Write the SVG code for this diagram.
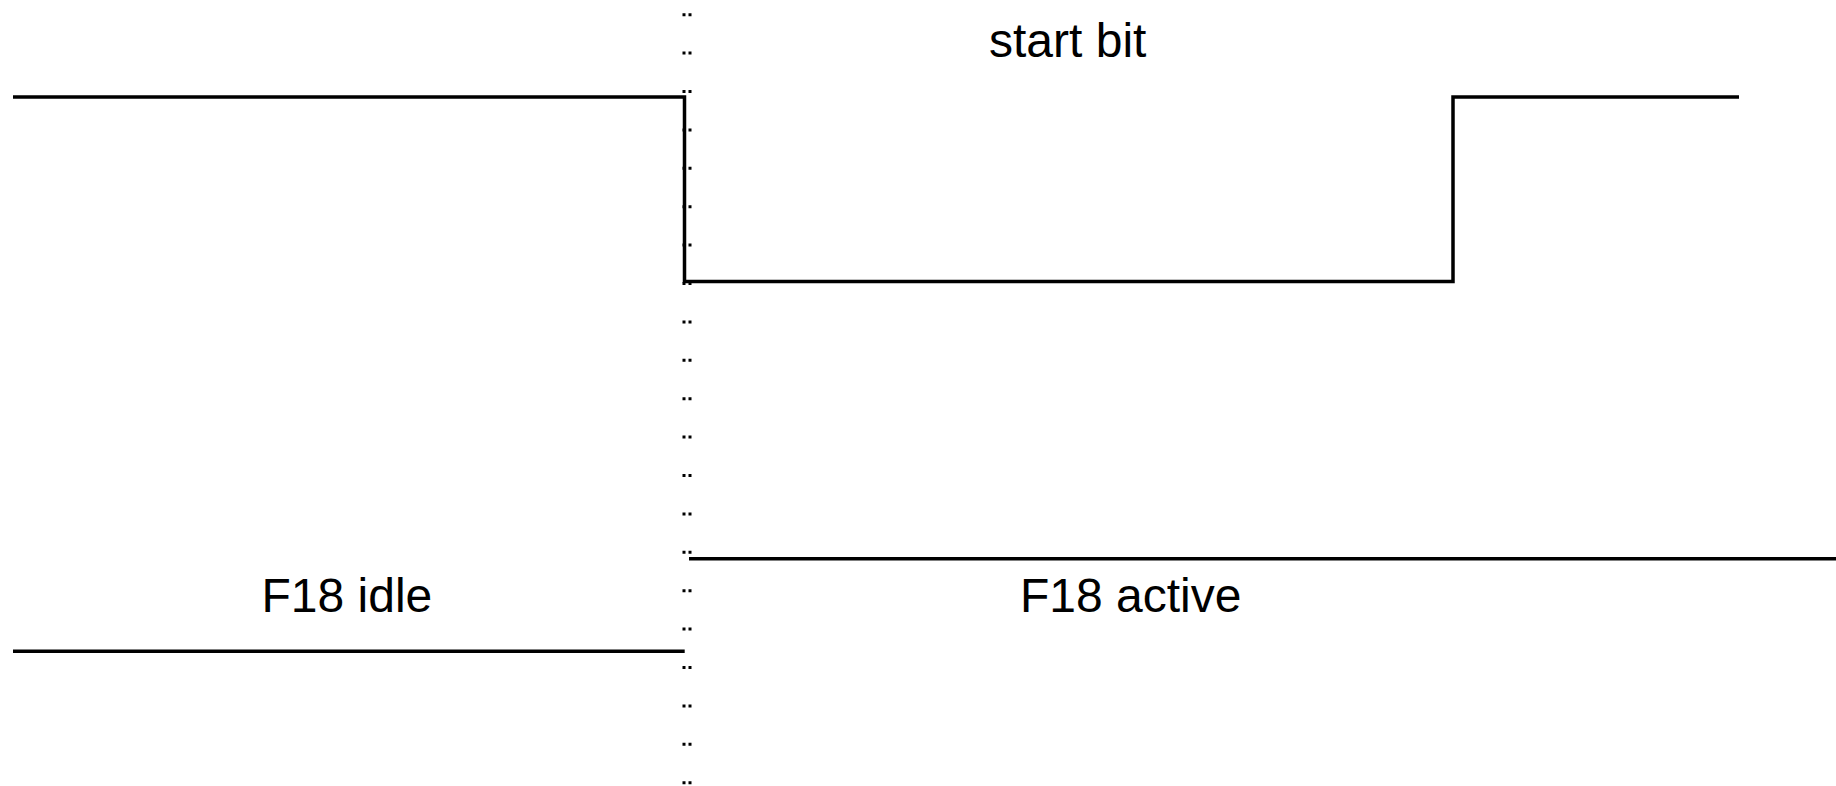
<svg xmlns="http://www.w3.org/2000/svg" width="1836" height="786" viewBox="0 0 1836 786">
  <style>
    .sig { fill: none; stroke: #000; stroke-width: 3.5; }
    .dots { stroke: #000; stroke-width: 3; stroke-dasharray: 3 35.4; }
    .lbl { font-family: "Liberation Sans", Arial, sans-serif; font-size: 48px; fill: #000; }
  </style>
  <rect width="1836" height="786" fill="#fff"/>
  <!-- dotted time marker -->
  <g id="marker">
    <line class="dots" x1="684" y1="13.2" x2="684" y2="786"/>
    <line class="dots" x1="690" y1="13.2" x2="690" y2="786"/>
  </g>
  <g id="connectors">
    <!-- serial line waveform: idle high, start bit low, back high -->
    <polyline id="waveform" class="sig" points="13,97 684.5,97 684.5,281.5 1453,281.5 1453,97 1739,97"/>
    <!-- F18 state lines -->
    <line id="idle-line" class="sig" x1="13" y1="651.3" x2="684.7" y2="651.3"/>
    <line id="active-line" class="sig" x1="689" y1="558.7" x2="1836" y2="558.7"/>
  </g>
  <g id="start-bit"><text class="lbl" x="989" y="56.7">start bit</text></g>
  <g id="f18-idle"><text class="lbl" x="261.5" y="611.7">F18 idle</text></g>
  <g id="f18-active"><text class="lbl" x="1020" y="611.7">F18 active</text></g>
</svg>
